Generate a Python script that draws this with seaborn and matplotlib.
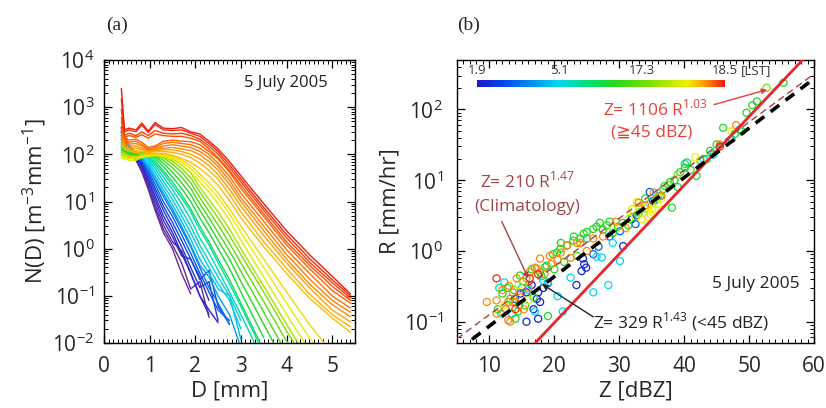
import numpy as np
import pandas as pd
import matplotlib
matplotlib.use("Agg")
import matplotlib.pyplot as plt
import matplotlib.transforms as mtransforms
from matplotlib.colors import LinearSegmentedColormap, Normalize
from matplotlib.cm import ScalarMappable
from matplotlib.ticker import AutoMinorLocator, FixedLocator
import seaborn as sns

# ---------------- panel (a): drop size distributions ----------------
# diameter grid [mm]; each curve lists N(D) on this grid until it stops
D_GRID = [0.38, 0.45, 0.55, 0.70, 0.83, 0.97, 1.12, 1.30, 1.50, 1.70,
          1.90, 2.10, 2.30, 2.50, 2.75, 3.00, 3.50, 4.00, 4.50, 5.00, 5.40]

T_PURPLE = [0.00, 0.02, 0.04, 0.06]
N_PURPLE = [
    [200, 160, 115, 75, 42, 18, 6.5, 2.2, 1.0, 0.3, 0.11],
    [220, 180, 120, 78, 45, 20, 7.5, 2.6, 1.2, 0.5, 0.14, 0.2, 0.035],
    [250, 200, 130, 80, 50, 23, 9, 3.2, 1.4, 0.9, 0.3, 0.1, 0.04],
    [300, 220, 140, 85, 55, 26, 11, 4, 1.8, 0.7, 0.6, 0.25, 0.08],
]
T_BLUE = [0.10, 0.13, 0.16, 0.19, 0.22]
N_BLUE = [
    [380, 240, 150, 90, 58, 30, 13, 5, 2.2, 0.8, 0.3, 0.1, 0.05, 0.027],
    [360, 230, 150, 95, 62, 35, 16, 6.5, 2.8, 1.1, 0.4, 0.15, 0.2, 0.03],
    [330, 220, 150, 100, 68, 40, 19, 8, 3.6, 1.5, 0.6, 0.22, 0.35, 0.06, 0.025],
    [300, 210, 150, 105, 72, 45, 23, 10, 4.8, 2.0, 0.8, 0.3, 0.12, 0.05, 0.03],
    [280, 200, 150, 110, 80, 52, 28, 13, 6, 2.6, 1.1, 0.4, 0.15, 0.07, 0.025],
]
T_CYAN = [0.26, 0.29, 0.31, 0.34, 0.37, 0.40]
N_CYAN = [
    [250, 180, 140, 105, 80, 55, 30, 15, 7, 3, 1.2, 0.45, 0.25, 0.1, 0.04, 0.008],
    [220, 170, 135, 110, 85, 62, 35, 18, 8.5, 3.8, 1.6, 0.6, 0.3, 0.14, 0.1, 0.012],
    [200, 160, 130, 110, 90, 70, 42, 22, 11, 5, 2.2, 0.9, 0.4, 0.18, 0.08, 0.02],
    [180, 155, 130, 110, 95, 78, 50, 27, 14, 6.5, 3, 1.2, 0.55, 0.25, 0.1, 0.03],
    [170, 150, 125, 110, 100, 85, 58, 33, 18, 9, 4.2, 1.7, 0.8, 0.35, 0.12, 0.04, 0.004],
    [160, 140, 120, 110, 100, 90, 65, 40, 22, 12, 6, 2.5, 1.2, 0.5, 0.18, 0.06, 0.006],
]
T_GREEN = [0.45, 0.48, 0.51, 0.54, 0.57, 0.60, 0.63]
N_GREEN = [
    [150, 130, 115, 110, 105, 100, 72, 45, 26, 14, 7, 3, 1.4, 0.6, 0.22, 0.07, 0.007],
    [140, 120, 110, 110, 110, 105, 82, 55, 33, 19, 10, 4.5, 2.2, 1.0, 0.38, 0.12, 0.013],
    [130, 115, 105, 105, 110, 110, 90, 65, 42, 25, 14, 6.5, 3.2, 1.5, 0.6, 0.2, 0.025, 0.003],
    [120, 110, 100, 100, 105, 110, 95, 75, 52, 33, 19, 9, 4.5, 2.2, 0.9, 0.33, 0.045, 0.006],
    [110, 100, 95, 95, 100, 110, 100, 85, 62, 42, 25, 12, 6.2, 3.2, 1.3, 0.5, 0.075, 0.011, 0.002],
    [100, 95, 90, 90, 95, 105, 100, 90, 72, 50, 32, 16, 8.5, 4.5, 1.9, 0.75, 0.12, 0.018, 0.003],
    [95, 90, 85, 85, 90, 100, 105, 95, 80, 60, 40, 20, 11, 6, 2.6, 1.0, 0.16, 0.025, 0.004],
]
T_YELLOW = [0.68, 0.71, 0.74]
N_YELLOW = [
    [85, 80, 75, 75, 85, 90, 95, 90, 78, 60, 42, 26, 16, 9, 4, 1.5, 0.25, 0.04, 0.007],
    [90, 85, 80, 80, 90, 95, 100, 95, 85, 68, 50, 32, 20, 12, 5.5, 2.2, 0.4, 0.07, 0.013, 0.003],
    [100, 95, 90, 85, 95, 100, 105, 100, 90, 75, 58, 38, 25, 15, 7, 3.0, 0.6, 0.12, 0.025, 0.006],
]
T_ORANGE = [0.78, 0.80, 0.82, 0.84, 0.86, 0.88, 0.90]
N_ORANGE = [
    [150, 130, 115, 110, 105, 100, 105, 105, 95, 82, 68, 50, 35, 22, 10.5, 4.5, 1.1, 0.3, 0.09, 0.034, 0.017],
    [170, 140, 125, 120, 115, 110, 115, 115, 110, 100, 85, 65, 46, 30, 14, 6, 1.4, 0.38, 0.11, 0.04, 0.022],
    [200, 150, 135, 135, 125, 115, 120, 125, 125, 115, 100, 80, 58, 37, 18, 8, 1.9, 0.5, 0.15, 0.05, 0.028],
    [240, 170, 150, 150, 135, 120, 125, 135, 140, 130, 120, 98, 70, 46, 23, 10, 2.4, 0.6, 0.18, 0.065, 0.036],
    [280, 190, 165, 170, 150, 125, 130, 150, 160, 150, 140, 115, 85, 55, 28, 12, 3.0, 0.75, 0.23, 0.08, 0.045],
    [350, 210, 180, 190, 160, 130, 140, 170, 180, 170, 160, 135, 100, 65, 34, 15, 3.8, 0.95, 0.3, 0.1, 0.055],
    [500, 230, 200, 210, 180, 140, 150, 190, 200, 190, 185, 160, 115, 80, 42, 19, 4.8, 1.2, 0.38, 0.13, 0.07],
]
T_RED = [0.92, 0.94, 0.97, 1.00]
N_RED = [
    [600, 230, 250, 230, 260, 220, 270, 250, 240, 240, 220, 190, 130, 85, 45, 22, 5.5, 1.4, 0.45, 0.16, 0.08],
    [900, 250, 280, 250, 300, 250, 320, 280, 270, 280, 250, 210, 150, 100, 52, 26, 6.5, 1.7, 0.52, 0.19, 0.09],
    [1500, 300, 330, 300, 420, 290, 430, 330, 320, 330, 280, 240, 170, 115, 60, 30, 7.5, 2.0, 0.62, 0.22, 0.1],
    [2500, 330, 360, 330, 460, 310, 470, 360, 350, 370, 300, 270, 190, 130, 70, 35, 9, 2.4, 0.75, 0.26, 0.11],
]

# ---------------- panel (b): Z-R scatter ----------------
# colour position of each group on the LST colour bar (0 = 1.9, 1 = 18.5)
Z_DBLUE = [15.7, 17.5, 17.3, 17.8, 17.5, 15.7, 23.4, 24.4, 24.2, 24.6, 30.6, 16.5, 18.3, 13.9,
           24.9, 19.0, 14.8, 16.8]
R_DBLUE = [0.26, 0.26, 0.21, 0.19, 0.11, 0.10, 0.33, 0.78, 0.52, 0.65, 1.17, 0.33, 0.30, 0.21,
           0.58, 0.35, 0.25, 0.15]
Z_MBLUE = [26.8, 32.7, 31.9, 30.1, 35.2, 34.7, 26.0, 28.5, 32.5]
R_MBLUE = [1.15, 3.2, 2.8, 1.9, 5.1, 6.8, 0.9, 1.6, 2.4]
Z_CYAN = [12.3, 18.3, 19.0, 17.0, 21.3, 26.5, 27.3, 30.1, 26.0, 28.3, 47.3, 43.0, 11.8, 20.5,
          34.0, 13.5, 15.0, 22.5, 29.0, 36.0, 44.5, 48.5]
R_CYAN = [0.36, 0.38, 0.36, 0.14, 0.14, 0.83, 0.81, 0.72, 0.26, 0.33, 38, 20, 0.13, 0.23,
          4.0, 0.13, 0.3, 0.42, 1.3, 6.0, 23, 52]
Z_TEAL = [14.6, 16.0, 25.0, 40.1, 11.5]
R_TEAL = [0.17, 0.28, 1.5, 17, 0.3]
Z_GREEN = [55.3, 51.2, 49.6, 46.0, 48.9, 40.4, 41.9, 38.1, 37.8, 37.0, 36.3, 39.4, 40.1,
           31.4, 29.8, 28.1, 27.0, 27.5, 26.0, 25.0, 24.0, 22.9, 22.0, 20.9, 20.4, 18.8,
           18.6, 17.8, 15.2, 14.7, 13.2, 14.4, 11.3, 19.0, 15.5, 29.0, 33.0, 35.5, 44.0,
           42.5, 23.5, 21.5, 12.8, 50.5, 47.8, 16.5, 19.8, 21.0, 23.0, 24.5, 26.5, 28.5,
           30.5, 32.0, 34.0, 36.8, 38.5, 39.0, 41.0, 43.5, 45.0, 12.0, 13.8, 16.8, 14.0,
           18.0, 20.0]
R_GREEN = [238, 130, 90, 55, 49, 17.8, 11.5, 4.1, 9.4, 8.3, 6.0, 13, 15,
           2.3, 2.2, 2.3, 2.5, 2.0, 2.05, 1.86, 1.5, 1.4, 1.2, 1.07, 0.95, 0.62,
           0.59, 0.50, 0.37, 0.45, 0.21, 0.14, 0.15, 0.12, 0.17, 1.8, 3.5, 5.2, 26,
           19, 0.85, 0.7, 0.3, 115, 45, 0.55, 0.9, 1.3, 1.6, 1.75, 2.2, 2.6,
           2.5, 3.0, 5.5, 7.5, 10, 8, 14, 20, 32, 0.25, 0.28, 0.22, 0.11,
           0.44, 0.55]
Z_LIME = [52.7, 37.5, 39.0, 13.6]
R_LIME = [203, 8.6, 12, 0.19]
Z_YELLOW = [47.3, 41.7, 33.7, 32.7, 34.3, 35.0, 36.0, 34.8, 33.5, 31.5, 12.3, 32.0, 33.0,
            35.5, 34.5, 36.5, 16.0, 14.5, 29.0]
R_YELLOW = [49, 21, 3.5, 4.9, 4.2, 3.9, 4.6, 3.3, 2.8, 2.9, 0.17, 3.9, 4.2,
            4.0, 3.0, 5.5, 0.2, 0.33, 2.2]
Z_ORANGE = [45.5, 35.3, 34.0, 21.9, 19.3, 17.8, 17.3, 16.2, 15.7, 14.2, 17.0, 13.6, 11.1, 12.9,
            14.0, 11.1, 12.9, 13.2, 9.6, 19.5, 20.5, 22.5, 25.0, 27.5, 31.0, 16.0, 23.5,
            12.0, 13.0, 14.8, 15.3, 12.5, 18.5, 21.0, 24.0, 26.0, 29.5, 33.0, 36.5, 48.0]
R_ORANGE = [32, 6.7, 4.4, 1.19, 0.85, 0.78, 0.56, 0.5, 0.41, 0.41, 0.58, 0.26, 0.2, 0.19,
            0.19, 0.13, 0.105, 0.1, 0.19, 0.65, 0.75, 0.8, 1.0, 1.6, 2.1, 0.3, 1.3,
            0.28, 0.32, 0.22, 0.15, 0.15, 0.47, 0.95, 1.3, 1.5, 2.6, 4.8, 6.0, 60]
Z_RED = [11.1, 16.2, 14.0, 45.5, 17.5]
R_RED = [0.41, 0.41, 0.15, 30, 0.47]
SCATTER_GROUPS = [
    (Z_DBLUE, R_DBLUE, 0.03), (Z_MBLUE, R_MBLUE, 0.14), (Z_CYAN, R_CYAN, 0.33),
    (Z_TEAL, R_TEAL, 0.40), (Z_GREEN, R_GREEN, 0.55), (Z_LIME, R_LIME, 0.70),
    (Z_YELLOW, R_YELLOW, 0.84), (Z_ORANGE, R_ORANGE, 0.93), (Z_RED, R_RED, 0.99),
]

# Z = a R^b relations
ZR_A = [1106, 329, 210]
ZR_B = [1.03, 1.43, 1.47]
Z_LINE = [5, 60]

CBAR_TICKS = [0, 1 / 3, 2 / 3, 1]
CBAR_LABELS = ["1.9", "5.1", "17.3", "18.5"]

# ---------------- style ----------------
sns.set_theme(style="ticks")
plt.rcParams["font.family"] = ["Open Sans", "DejaVu Sans"]
plt.rcParams["mathtext.fontset"] = "custom"
plt.rcParams["mathtext.rm"] = "Open Sans"
plt.rcParams["axes.linewidth"] = 1.0
plt.rcParams["axes.edgecolor"] = "black"

cmap_a = LinearSegmentedColormap.from_list(
    "dsd", ["#6a2a9a", "#2626d0", "#0060f0", "#00c8f0", "#00e0a0", "#20d820",
            "#80e000", "#f0f000", "#ffb000", "#ff6000", "#f01a10"])
cmap_b = LinearSegmentedColormap.from_list(
    "lst", [(0.0, "#1a1ac8"), (0.12, "#0050f0"), (0.33, "#00d8f0"), (0.45, "#00e070"),
            (0.55, "#20d820"), (0.70, "#80e000"), (0.85, "#f0f000"), (0.93, "#ff8c00"),
            (1.0, "#f01a10")])

fig = plt.figure(figsize=(8.26, 4.08), dpi=100)
ax_a = fig.add_axes([104 / 826, 65 / 408, 251 / 826, 283 / 408])
ax_b = fig.add_axes([457 / 826, 65 / 408, 357 / 826, 283 / 408])

# ---------------- panel (a) ----------------
rows = []
cid = 0
for tl, nl in [(T_PURPLE, N_PURPLE), (T_BLUE, N_BLUE), (T_CYAN, N_CYAN), (T_GREEN, N_GREEN),
               (T_YELLOW, N_YELLOW), (T_ORANGE, N_ORANGE), (T_RED, N_RED)]:
    for t, vals in zip(tl, nl):
        for d, n in zip(D_GRID, vals):
            rows.append({"curve": cid, "D": d, "N": n, "t": t})
        cid += 1
df_a = pd.DataFrame(rows)

ax_a.set_yscale("log")
sns.lineplot(data=df_a, x="D", y="N", hue="t", units="curve", estimator=None,
             palette=cmap_a, hue_norm=(0, 1), legend=False, lw=1.0, ax=ax_a)
ax_a.set_xlim(0, 5.5)
ax_a.set_ylim(1e-2, 1e4)
ax_a.xaxis.set_major_locator(FixedLocator([0, 1, 2, 3, 4, 5]))
ax_a.xaxis.set_minor_locator(AutoMinorLocator(10))
ax_a.set_xlabel("D [mm]", fontsize=16, labelpad=3)
ax_a.set_ylabel("N(D) [m$^{-3}$mm$^{-1}$]", fontsize=16, labelpad=2)
ax_a.text(0.89, 0.92, "5 July 2005", transform=ax_a.transAxes, ha="right", va="center",
          fontsize=12, color="#222222")

# ---------------- panel (b) ----------------
rows = []
for zl, rl, t in SCATTER_GROUPS:
    for z, r in zip(zl, rl):
        rows.append({"Z": z, "R": r, "t": t})
df_b = pd.DataFrame(rows)

ax_b.set_yscale("log")
sns.scatterplot(data=df_b, x="Z", y="R", hue="t", palette=cmap_b, hue_norm=(0, 1),
                legend=False, s=26, linewidth=0.9, ax=ax_b)
pts = ax_b.collections[-1]
pts.set_edgecolors(pts.get_facecolors())
pts.set_facecolors("none")

zl = np.array(Z_LINE, dtype=float)
line_styles = [
    dict(color="#e8262a", lw=2.0, ls="-"),
    dict(color="black", lw=2.6, ls=(0, (3, 2.2))),
    dict(color="#a8404a", lw=1.0, ls=(0, (5, 3))),
]
for a, b, st in zip(ZR_A, ZR_B, line_styles):
    rr = (10 ** (zl / 10) / a) ** (1 / b)
    ax_b.plot(zl, rr, zorder=3, **st)

ax_b.set_xlim(5, 60)
ax_b.set_ylim(0.05, 500)
ax_b.xaxis.set_major_locator(FixedLocator([10, 20, 30, 40, 50, 60]))
ax_b.xaxis.set_minor_locator(AutoMinorLocator(10))
ax_b.set_xlabel("Z [dBZ]", fontsize=16, labelpad=3)
ax_b.set_ylabel("R [mm/hr]", fontsize=16, labelpad=2)

red_t = "#e8413c"
brown_t = "#a0454a"
ax_b.text(35.5, 100, "Z= 1106 R$^{1.03}$", color=red_t, fontsize=12.5, ha="center", va="center")
ax_b.text(35.0, 47, "(≧45 dBZ)", color=red_t, fontsize=12.5, ha="center", va="center",
          family=["Open Sans", "DejaVu Sans"])
ax_b.annotate("", xy=(52.8, 191), xytext=(44.6, 117),
              arrowprops=dict(arrowstyle="-|>", color=red_t, lw=1.0, mutation_scale=8,
                              shrinkA=0, shrinkB=0))
ax_b.text(15.8, 9.7, "Z= 210 R$^{1.47}$", color=brown_t, fontsize=12.5, ha="center", va="center")
ax_b.text(15.8, 4.2, "(Climatology)", color=brown_t, fontsize=12.5, ha="center", va="center")
ax_b.annotate("", xy=(16.0, 0.41), xytext=(11.9, 2.6),
              arrowprops=dict(arrowstyle="-|>", color=brown_t, lw=1.0, mutation_scale=8,
                              shrinkA=0, shrinkB=0))
ax_b.text(26.0, 0.1, "Z= 329 R$^{1.43}$ (<45 dBZ)", color="#222222", fontsize=12.5,
          ha="left", va="center")
ax_b.annotate("", xy=(18.1, 0.34), xytext=(26.0, 0.117),
              arrowprops=dict(arrowstyle="-|>", color="#222222", lw=1.0, mutation_scale=8,
                              shrinkA=0, shrinkB=0))
ax_b.text(57.8, 0.34, "5 July 2005", color="#222222", fontsize=12.5, ha="right", va="center")

# colour bar inside the panel
cax = ax_b.inset_axes([0.056, 0.905, 0.694, 0.024])
sm = ScalarMappable(norm=Normalize(0, 1), cmap=cmap_b)
cb = fig.colorbar(sm, cax=cax, orientation="horizontal", ticks=CBAR_TICKS)
cb.outline.set_visible(False)
cax.xaxis.set_ticks_position("top")
cax.set_xticklabels(CBAR_LABELS)
cax.tick_params(length=0, pad=2, labelsize=9.5, colors="#333333")
off = mtransforms.ScaledTranslation(0, 2 / 72, fig.dpi_scale_trans)
cax.text(1.065, 1.0, "[LST]", transform=cax.transAxes + off, ha="left", va="bottom",
         fontsize=9.5, color="#333333")

for ax, ypad in ((ax_a, 7), (ax_b, 10)):
    ax.tick_params(which="both", direction="in", top=True, right=True, labelsize=15,
                   color="black")
    ax.tick_params(which="major", length=6, width=0.9)
    ax.tick_params(which="minor", length=3, width=0.7)
    ax.tick_params(axis="x", which="major", pad=9)
    ax.tick_params(axis="y", which="major", pad=ypad)
    for sp in ax.spines.values():
        sp.set_visible(True)
        sp.set_linewidth(1.0)

fig.text(117 / 826, 1 - 25 / 408, "(a)", family="Liberation Serif", fontsize=14,
         ha="center", va="center")
fig.text(469 / 826, 1 - 25 / 408, "(b)", family="Liberation Serif", fontsize=14,
         ha="center", va="center")

fig.savefig("out.png", dpi=100)
